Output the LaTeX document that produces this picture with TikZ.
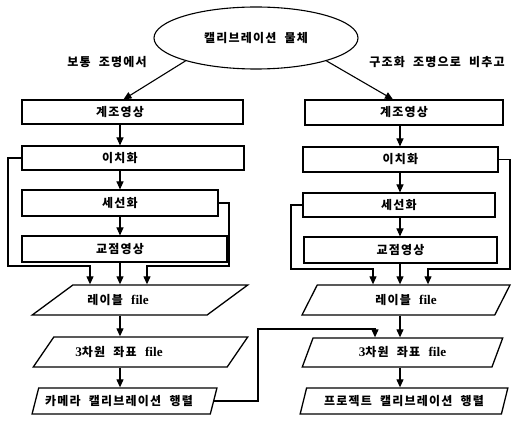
\documentclass[tikz,border=0pt]{standalone}
\usepackage{fontspec}
\setmainfont{Noto Sans CJK KR}[LetterSpace=10,WordSpace=2.1]
\newfontfamily\lat{Liberation Serif}[Scale=1.1]
\usetikzlibrary{arrows.meta,shapes.geometric}
\begin{document}
\begin{tikzpicture}[x=1pt,y=-1pt,
  every node/.style={font=\fontsize{12}{14}\selectfont\bfseries},
  line width=1.1pt,
  box/.style={draw, rectangle, inner sep=0pt},
  para/.style={draw, line width=1.3pt, trapezium, trapezium left angle=65, trapezium right angle=115,
               trapezium stretches=true, inner sep=0pt},
  arr/.style={-{Triangle[length=8pt,width=7pt]}},
  tx/.style={execute at begin node={\hspace*{#1}}}
]
\useasboundingbox (0,0) rectangle (517,422);

\node[draw, ellipse, minimum width=204pt, minimum height=62pt] (ell) at (256,38) {캘리브레이션 물체};
\node (lbl) at (107,62) {보통 조명에서};
\node (rbl) at (437,62) {구조화 조명으로 비추고};

% left column
\node[box, minimum width=221pt, minimum height=24pt, tx=-25pt] (lb1) at (132.5,112) {계조영상};
\node[box, minimum width=222pt, minimum height=24pt, tx=-26pt] (lb2) at (133,158) {이치화};
\node[box, minimum width=196pt, minimum height=26pt] (lb3) at (120,203) {세선화};
\node[box, minimum width=205pt, minimum height=26pt, tx=-9pt] (lb4) at (124.5,249) {교점영상};
\node[para, minimum width=216pt, minimum height=30pt, tx=-44pt] (lp1) at (140,300) {레이블 {\lat file}};
\node[para, minimum width=215pt, minimum height=30pt, tx=-43pt] (lp2) at (140.5,352) {{\lat 3}차원 좌표 {\lat file}};
\node[para, minimum width=185pt, minimum height=26pt, tx=-11pt] (lp3) at (124.5,401) {카메라 캘리브레이션 행렬};

% right column
\node[box, minimum width=198pt, minimum height=25pt] (rb1) at (404,112.5) {계조영상};
\node[box, minimum width=195pt, minimum height=25pt] (rb2) at (400.5,159.5) {이치화};
\node[box, minimum width=192pt, minimum height=24pt] (rb3) at (399,205) {세선화};
\node[box, minimum width=193pt, minimum height=26pt] (rb4) at (400.5,250) {교점영상};
\node[para, minimum width=208pt, minimum height=30pt] (rp1) at (406,300) {레이블 {\lat file}};
\node[para, minimum width=201pt, minimum height=29pt] (rp2) at (402.5,352.5) {{\lat 3}차원 좌표 {\lat file}};
\node[para, minimum width=208pt, minimum height=26pt] (rp3) at (404,401) {프로젝트 캘리브레이션 행렬};

\coordinate (lx) at (120,0);
\coordinate (rx) at (400,0);
\coordinate (la) at (90,266);
\coordinate (lc) at (147,266);
\coordinate (ra) at (373,269);
\coordinate (rc) at (428,269);
\coordinate (cx) at (375,329);

% top arrows
\draw[arr] (ell.198) -- ([xshift=-9pt]lb1.north);
\draw[arr] (ell.-18) -- ([xshift=-11pt]rb1.north);

% left flow
\draw[arr] (lb1.south -| lx) -- (lb2.north -| lx);
\draw[arr] (lb2.south -| lx) -- (lb3.north -| lx);
\draw[arr] (lb3.south -| lx) -- (lb4.north -| lx);
\draw[arr] (lb4.south -| lx) -- (lp1.north -| lx);
\draw[arr] (lb2.west) -| (8,266) -- (la) -- (la |- lp1.north);
\draw[arr] (lb3.east) -| (229,266) -- (lc) -- (lc |- lp1.north);
\draw[arr] (lp1.south -| lx) -- (lp2.north -| lx);
\draw[arr] (lp2.south -| lx) -- (lp3.north -| lx);

% right flow
\draw[arr] (rb1.south -| rx) -- (rb2.north -| rx);
\draw[arr] (rb2.south -| rx) -- (rb3.north -| rx);
\draw[arr] (rb3.south -| rx) -- (rb4.north -| rx);
\draw[arr] (rb4.south -| rx) -- (rp1.north -| rx);
\draw[arr] (rb2.east) -| (510,269) -- (rc) -- (rc |- rp1.north);
\draw[arr] (rb3.west) -| (291,269) -- (ra) -- (ra |- rp1.north);
\draw[arr] (rp1.south -| rx) -- (rp2.north -| rx);
\draw[arr] (rp2.south -| rx) -- (rp3.north -| rx);

% cross link
\draw[arr] (lp3.east) -| (258,329) -- (cx) -- (cx |- rp2.north);
\end{tikzpicture}
\end{document}
